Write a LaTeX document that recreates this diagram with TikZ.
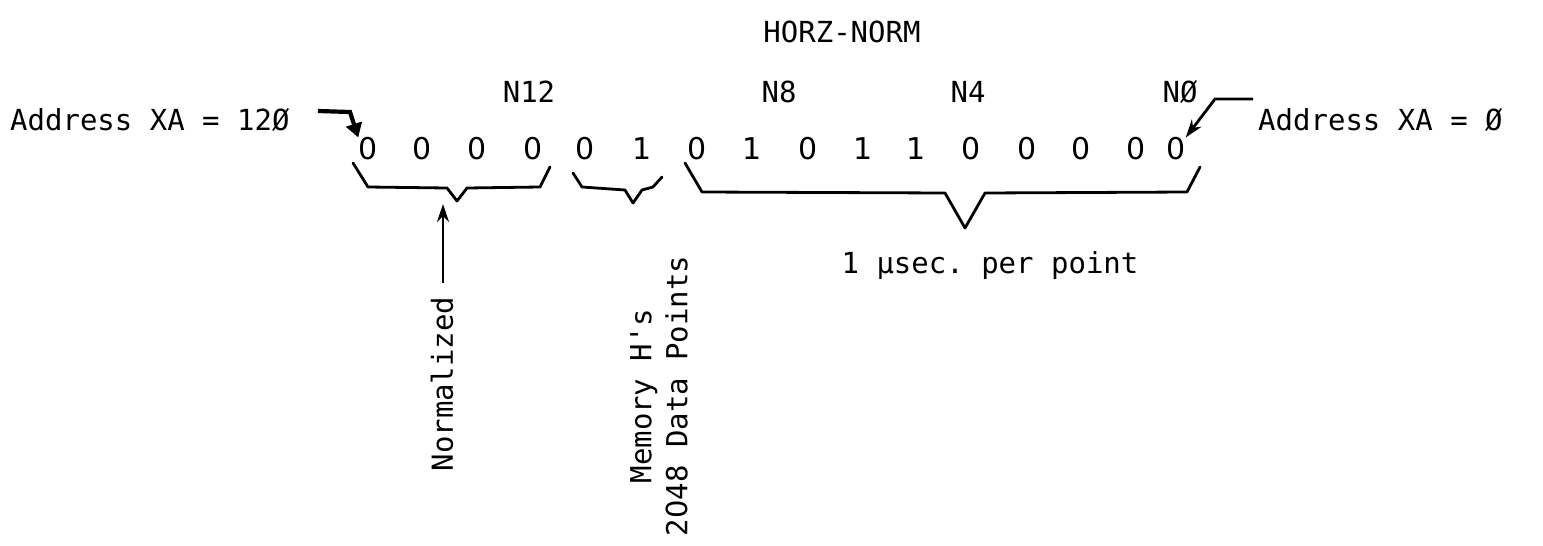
\documentclass[tikz,border=0pt]{standalone}
\usepackage{fontspec}
\setmonofont{DejaVu Sans Mono}
\newfontfamily\digitfont{DejaVu Sans}
\usetikzlibrary{arrows.meta}
\begin{document}
\begin{tikzpicture}[x=1pt,y=-1pt,
  lbl/.style={font=\fontsize{29}{36}\selectfont\ttfamily, inner sep=0pt},
  bit/.style={font=\fontsize{30}{36}\selectfont\digitfont, inner sep=0pt},
  brace/.style={line width=2.8pt, line join=round, line cap=round},
  ptr/.style={line width=2.8pt, -{Stealth[length=18pt,width=12pt]}},
  fatptr/.style={line width=4.2pt, -{Triangle[length=14pt,width=16pt]}}]
\useasboundingbox (0,0) rectangle (1543,546);

% title
\node[lbl] (title) at (842,32) {HORZ-NORM};

% bit pattern, most significant bit on the left
\foreach \x/\v/\n in {368/0/15,422/0/14,477/0/13,533/0/12,585/0/11,642/1/10,
    697/0/9,752/1/8,808/0/7,863/1/6,916/1/5,971/0/4,1027/0/3,1081/0/2,1136/0/1,1176/0/0}
  \node[bit] (b\n) at (\x,149) {\v};

% bit position labels
\node[lbl] (n12) at (529,92) {N12};
\node[lbl] (n8)  at (779,92) {N8};
\node[lbl] (n4)  at (968,92) {N4};
\node[lbl] (n0)  at (1180,92) {NØ};

% address labels and their pointers
\node[lbl, anchor=base west] (addrL) at (10,130) {Address XA = 12Ø};
\node[lbl, anchor=base west] (addrR) at (1258,130) {Address XA = Ø};
\coordinate (pL) at (318,111);
\coordinate (qL) at (350,112);
\coordinate (pR) at (1253,99);
\coordinate (qR) at (1215,99);
\draw[fatptr] (pL) -- (qL) -- (b15.north west);
\draw[ptr] (pR) -- (qR) -- (b0.north east);

% braces under the bit groups
\draw[brace] (353,163) -- (368,187) -- (447,188) -- (457,201) -- (467,188) -- (540,187) -- (550,167);
\draw[brace] (573,173) -- (582,187) -- (625,190) -- (633,203) -- (642,190) -- (653,187) -- (662,177);
\draw[brace] (685,163) -- (702,192) -- (945,193) -- (965,228) -- (985,193) -- (1187,192) -- (1200,167);

% group descriptions
\node[lbl, rotate=90] (norm) at (442,384) {Normalized};
\coordinate (normtop) at (443,204);
\draw[ptr] (norm.east) ++(1,-14) coordinate (normfoot) (normfoot) -- (normtop);
\node[lbl, rotate=90, align=center] (mem) at (659,396) {Memory H's\\2{\digitfont 0}48 Data Points};
\node[lbl] (rate) at (990,266) {1 μsec. per point};
\end{tikzpicture}
\end{document}
